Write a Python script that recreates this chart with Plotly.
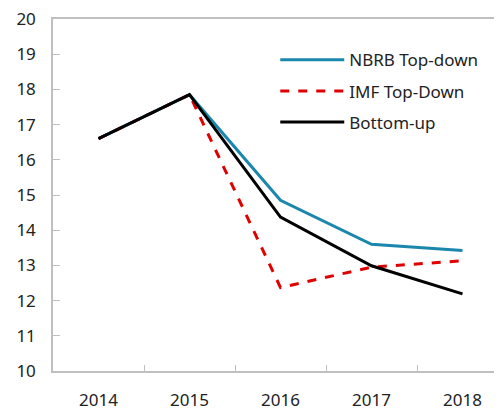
import plotly.graph_objects as go

years = ["2014", "2015", "2016", "2017", "2018"]
nbrb = [16.6, 17.85, 14.85, 13.6, 13.42]
imf = [16.6, 17.85, 12.37, 12.95, 13.13]
bottom = [16.6, 17.85, 14.37, 12.99, 12.19]
yticks = [10, 11, 12, 13, 14, 15, 16, 17, 18, 19, 20]

FONT = "Noto Sans"
fig = go.Figure()
fig.add_trace(go.Scatter(x=years, y=nbrb, mode="lines", name="NBRB Top-down",
                         line=dict(color="#1B87AD", width=3), legendgroup="a"))
fig.add_trace(go.Scatter(x=years, y=imf, mode="lines", name="IMF Top-Down",
                         line=dict(color="#E00000", width=3, dash="dash"), legendgroup="b"))
fig.add_trace(go.Scatter(x=years, y=bottom, mode="lines", name="Bottom-up",
                         line=dict(color="#000000", width=3), legendgroup="c"))

# the page body adds an 8px offset, so the figure is made 8px smaller
fig.update_layout(
    width=494, height=404,
    margin=dict(l=45, r=0, t=11, b=41),
    paper_bgcolor="white", plot_bgcolor="white",
    font=dict(family=FONT, size=17, color="#222222"),
    showlegend=True,
    legend=dict(x=0.495, y=0.934, xanchor="left", yanchor="top",
                tracegroupgap=6, itemwidth=64,
                font=dict(family=FONT, size=17, color="#222222"),
                bgcolor="rgba(0,0,0,0)"),
    xaxis=dict(type="category", range=[-0.5, 4.434], showgrid=False,
               showline=True, linecolor="#BFBFBF", linewidth=1.5, mirror=True,
               ticks="inside", tickson="boundaries", ticklen=6, tickcolor="#BFBFBF",
               tickwidth=1, ticklabelstandoff=13, zeroline=False, automargin=False,
               ticklabeloverflow="allow"),
    yaxis=dict(range=[10, 20], tickvals=yticks, showgrid=False,
               showline=True, linecolor="#BFBFBF", linewidth=1.5,
               ticks="inside", ticklen=7, tickcolor="#BFBFBF", tickwidth=1,
               ticklabelstandoff=12, zeroline=False, automargin=False,
               ticklabeloverflow="allow"),
)
fig.write_html("out.html")
